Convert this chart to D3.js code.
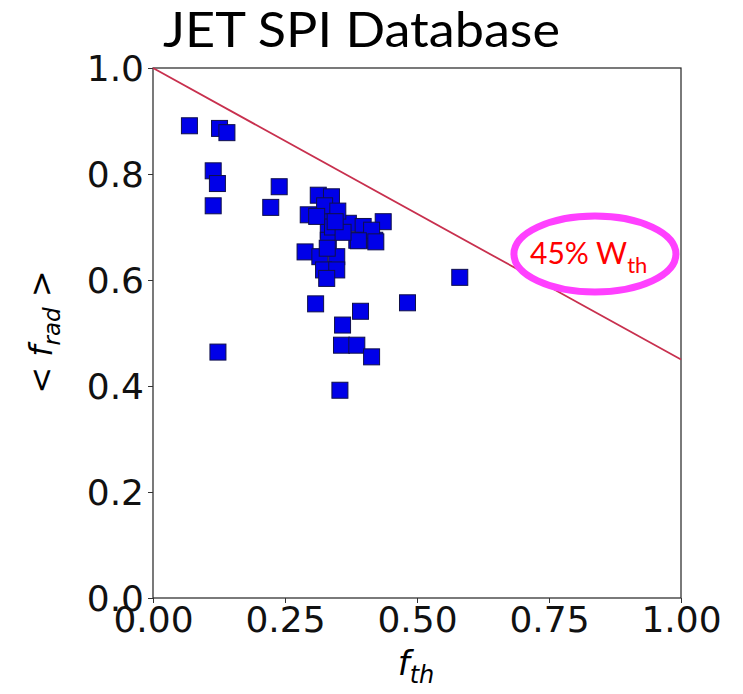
<!DOCTYPE html>
<html>
<head>
<style>
  body { margin: 0; background: #fff; }
</style>
</head>
<body>
<svg width="743" height="694"></svg>
<script src="https://d3js.org/d3.v7.min.js"></script>
<script>
    // thermal fraction vs. mean radiated fraction, one entry per pulse
    const fth = [0.069, 0.126, 0.140, 0.114, 0.122, 0.114, 0.239, 0.223, 0.123,
        0.313, 0.338, 0.294, 0.335, 0.370, 0.398, 0.436, 0.332, 0.386, 0.420,
        0.332, 0.288, 0.316, 0.348, 0.323, 0.348, 0.329, 0.414, 0.389, 0.422,
        0.325, 0.340, 0.330, 0.350, 0.310, 0.360, 0.345,
        0.581, 0.308, 0.482, 0.393, 0.359, 0.357, 0.386, 0.414, 0.354];
    const frad = [0.891, 0.886, 0.878, 0.806, 0.782, 0.740, 0.776, 0.737, 0.464,
        0.760, 0.757, 0.723, 0.726, 0.707, 0.701, 0.710, 0.694, 0.675, 0.675,
        0.675, 0.653, 0.644, 0.644, 0.619, 0.619, 0.603, 0.694, 0.674, 0.672,
        0.740, 0.700, 0.660, 0.730, 0.720, 0.690, 0.710,
        0.605, 0.555, 0.557, 0.541, 0.515, 0.477, 0.477, 0.455, 0.392];

    const xTicks = [0, 0.25, 0.5, 0.75, 1.0];
    const yTicks = [0, 0.2, 0.4, 0.6, 0.8, 1.0];

    // 45% of W_th limit line
    const limitLine = [[0, 1.0], [1.0, 0.45]];

    const svg = d3.select("svg"),
        pLeft = 153, pRight = 681, pTop = 68, pBottom = 598;

    const x = d3.scaleLinear().domain([0, 1]).range([pLeft, pRight]);
    const y = d3.scaleLinear().domain([0, 1]).range([pBottom, pTop]);

    // title
    svg.append("text")
        .attr("x", 163).attr("y", 47)
        .attr("textLength", 397).attr("lengthAdjust", "spacingAndGlyphs")
        .style("font-family", "Lato, 'Open Sans', sans-serif")
        .style("font-size", "48px")
        .text("JET SPI Database");

    // frame
    svg.append("rect")
        .attr("x", pLeft).attr("y", pTop)
        .attr("width", pRight - pLeft).attr("height", pBottom - pTop)
        .attr("fill", "none").attr("stroke", "#222").attr("stroke-width", 1.2);

    const xAxis = svg.append("g")
        .attr("transform", "translate(0," + pBottom + ")")
        .call(d3.axisBottom(x).tickValues(xTicks).tickFormat(d3.format(".2f")).tickSize(5).tickPadding(3));
    const yAxis = svg.append("g")
        .attr("transform", "translate(" + pLeft + ",0)")
        .call(d3.axisLeft(y).tickValues(yTicks).tickFormat(d3.format(".1f")).tickSize(5).tickPadding(4));

    [xAxis, yAxis].forEach(function(a) {
        a.select(".domain").remove();
        a.selectAll("line").attr("stroke", "#333");
        a.selectAll("text")
            .style("font-family", "'DejaVu Sans', sans-serif")
            .style("font-size", "36px")
            .attr("fill", "#111");
    });
    xAxis.selectAll("text").attr("dy", "0.72em");
    yAxis.selectAll("text").attr("dy", "0.36em");

    // limit line
    svg.append("path")
        .datum(limitLine)
        .attr("d", d3.line().x(d => x(d[0])).y(d => y(d[1])))
        .attr("fill", "none")
        .attr("stroke", "#c8304e")
        .attr("stroke-width", 1.8);

    // points
    const pts = fth.map((d, i) => [d, frad[i]]);
    const s = 16;
    svg.append("g").selectAll("rect")
        .data(pts)
        .enter().append("rect")
        .attr("x", d => x(d[0]) - s / 2)
        .attr("y", d => y(d[1]) - s / 2)
        .attr("width", s).attr("height", s)
        .attr("fill", "#0000e8")
        .attr("stroke", "#10104a")
        .attr("stroke-width", 1);

    // annotation
    svg.append("ellipse")
        .attr("cx", x(0.837)).attr("cy", y(0.649))
        .attr("rx", 81).attr("ry", 38)
        .attr("fill", "none")
        .attr("stroke", "#ff40ff")
        .attr("stroke-width", 7);

    const ann = svg.append("text")
        .attr("x", 530).attr("y", 264)
        .attr("fill", "#ff0000")
        .style("font-family", "Lato, 'Open Sans', sans-serif")
        .style("font-size", "30px");
    ann.append("tspan").text("45% W");
    ann.append("tspan").attr("dy", 9).style("font-size", "22px").text("th");

    // axis labels
    const xl = svg.append("text")
        .attr("x", 416).attr("y", 675)
        .attr("text-anchor", "middle")
        .style("font-family", "'DejaVu Sans', sans-serif")
        .style("font-size", "34px");
    xl.append("tspan").style("font-style", "italic").text("f");
    xl.append("tspan").attr("dy", 8).style("font-style", "italic").style("font-size", "24px").text("th");

    const yl = svg.append("text")
        .attr("transform", "translate(52,332) rotate(-90)")
        .attr("text-anchor", "middle")
        .style("font-family", "'DejaVu Sans', sans-serif")
        .style("font-size", "32px");
    yl.append("tspan").text("< ");
    yl.append("tspan").style("font-style", "italic").text("f");
    yl.append("tspan").attr("dy", 8).style("font-style", "italic").style("font-size", "23px").text("rad");
    yl.append("tspan").attr("dy", -8).text(" >");
</script>
</body>
</html>
